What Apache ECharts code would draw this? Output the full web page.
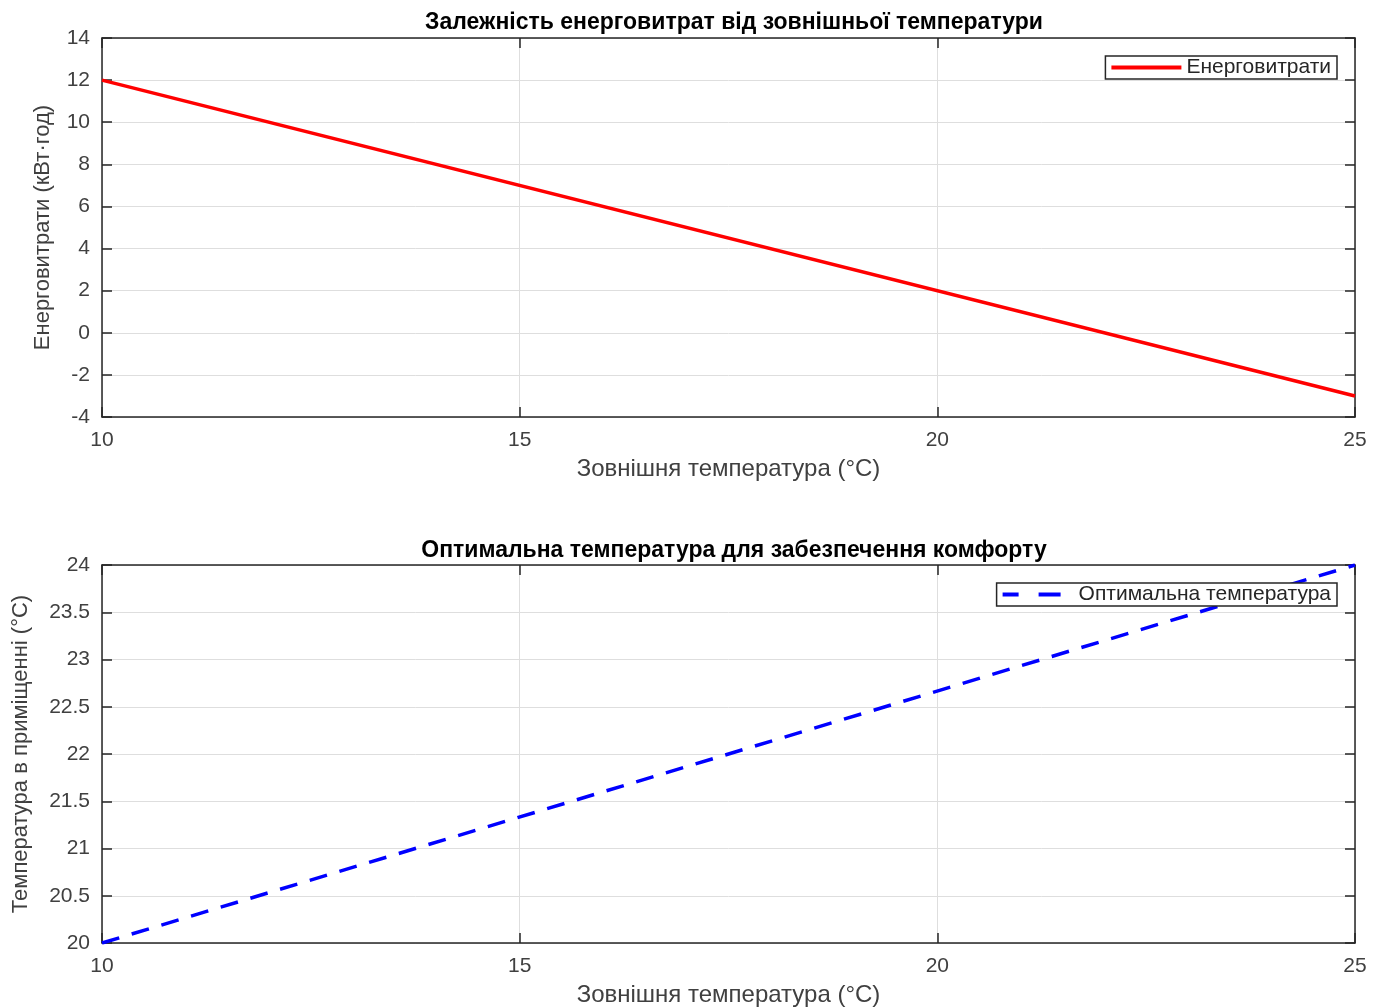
<!DOCTYPE html>
<html>
<head>
<meta charset="utf-8">
<script src="https://cdn.jsdelivr.net/npm/echarts@6/dist/echarts.min.js"></script>
<style>
html, body { margin: 0; padding: 0; background: #fff; }
#main { width: 1389px; height: 1008px; }
</style>
</head>
<body>
<div id="main"></div>
<script>
// дані
var temps = [10, 25];
var energy = [12, -3];
var optimal = [20, 24];

var chart = echarts.init(document.getElementById('main'));
var font = 'Liberation Sans, Arial, sans-serif';

function pairs(xs, ys) {
    var res = [];
    for (var i = 0; i < xs.length; i++) {
        res.push([xs[i], ys[i]]);
    }
    return res;
}

function xAxisBox(gi, pos, showLabel, name) {
    return {
        type: 'value', gridIndex: gi, position: pos,
        min: 10, max: 25, interval: 5,
        name: name, nameLocation: 'middle', nameGap: 40,
        nameTextStyle: { fontFamily: font, fontSize: 24, color: '#404040' },
        axisLine: { show: true, onZero: false, lineStyle: { color: '#262626', width: 1.5 } },
        axisTick: { show: true, inside: true, length: 10, lineStyle: { color: '#262626', width: 1.5 } },
        axisLabel: { show: showLabel, fontFamily: font, fontSize: 21, color: '#404040', margin: 13 },
        splitLine: { show: showLabel, lineStyle: { color: '#dedede', width: 1 } }
    };
}

function yAxisBox(gi, pos, showLabel, min, max, step, name, gap) {
    return {
        type: 'value', gridIndex: gi, position: pos,
        min: min, max: max, interval: step,
        name: name, nameLocation: 'middle', nameGap: gap,
        nameTextStyle: { fontFamily: font, fontSize: 22, color: '#404040' },
        axisLine: { show: true, onZero: false, lineStyle: { color: '#262626', width: 1.5 } },
        axisTick: { show: true, inside: true, length: 10, lineStyle: { color: '#262626', width: 1.5 } },
        axisLabel: { show: showLabel, fontFamily: font, fontSize: 21, color: '#404040', margin: 12 },
        splitLine: { show: showLabel, lineStyle: { color: '#dedede', width: 1 } }
    };
}

var option = {
    animation: false,
    backgroundColor: '#fff',
    title: [
        { text: 'Залежність енерговитрат від зовнішньої температури', left: 729, top: 6, textAlign: 'center',
          textStyle: { fontFamily: font, fontSize: 23, fontWeight: 'bold', color: '#000' } },
        { text: 'Оптимальна температура для забезпечення комфорту', left: 729, top: 534, textAlign: 'center',
          textStyle: { fontFamily: font, fontSize: 23, fontWeight: 'bold', color: '#000' } }
    ],
    grid: [
        { left: 102, top: 38, width: 1253, height: 379 },
        { left: 102, top: 565, width: 1253, height: 378 }
    ],
    legend: [
        { data: ['Енерговитрати'], right: 52, top: 56, orient: 'vertical',
          icon: 'path://M0,0H70V4H0Z',
          backgroundColor: '#fff', borderColor: '#262626', borderWidth: 1.5, borderRadius: 0,
          padding: [1, 6, 1, 6], itemWidth: 70, itemHeight: 4, itemGap: 0,
          textStyle: { fontFamily: font, fontSize: 21, color: '#262626' } },
        { data: ['Оптимальна температура'], right: 52, top: 583, orient: 'vertical',
          icon: 'path://M0,0H16V4H0Z M36,0H58V4H36Z',
          backgroundColor: '#fff', borderColor: '#262626', borderWidth: 1.5, borderRadius: 0,
          padding: [1, 6, 1, 6], itemWidth: 60, itemHeight: 4, itemGap: 0,
          textStyle: { fontFamily: font, fontSize: 21, color: '#262626', padding: [0, 0, 0, 12] } }
    ],
    xAxis: [
        xAxisBox(0, 'bottom', true, 'Зовнішня температура (°C)'),
        xAxisBox(0, 'top', false, ''),
        xAxisBox(1, 'bottom', true, 'Зовнішня температура (°C)'),
        xAxisBox(1, 'top', false, '')
    ],
    yAxis: [
        yAxisBox(0, 'left', true, -4, 14, 2, 'Енерговитрати (кВт·год)', 48),
        yAxisBox(0, 'right', false, -4, 14, 2, '', 0),
        yAxisBox(1, 'left', true, 20, 24, 0.5, 'Температура в приміщенні (°C)', 70),
        yAxisBox(1, 'right', false, 20, 24, 0.5, '', 0)
    ],
    series: [
        { name: 'Енерговитрати', type: 'line', xAxisIndex: 0, yAxisIndex: 0,
          data: pairs(temps, energy), showSymbol: false, symbol: 'none',
          lineStyle: { color: '#ff0000', width: 3.5 }, itemStyle: { color: '#ff0000' } },
        { name: 'Оптимальна температура', type: 'line', xAxisIndex: 2, yAxisIndex: 2,
          data: pairs(temps, optimal), showSymbol: false, symbol: 'none',
          lineStyle: { color: '#0000ff', width: 3.5, type: [18, 13] }, itemStyle: { color: '#0000ff' } }
    ]
};
chart.setOption(option);
</script>
</body>
</html>
